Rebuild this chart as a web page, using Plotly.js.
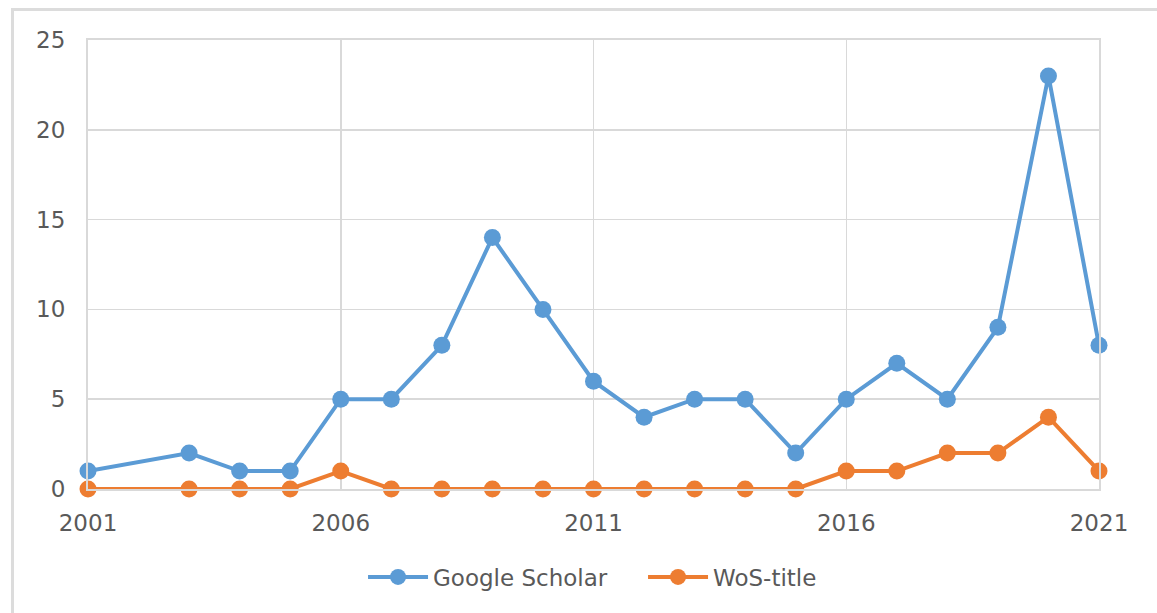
<!DOCTYPE html>
<html>
<head>
<meta charset="utf-8">
<script src="https://cdn.plot.ly/plotly-3.0.1.min.js"></script>
<style>
html,body{margin:0;padding:0;background:#fff;}
#wrap{position:relative;width:1157px;height:613px;}
#chart{width:1157px;height:613px;}
#frame{position:absolute;left:11px;top:8px;right:0;bottom:0;border-left:3px solid #dcdcdc;border-top:3px solid #dcdcdc;pointer-events:none;}
</style>
</head>
<body>
<div id="wrap"><div id="chart"></div><div id="frame"></div></div>
<script>
const years = [2001, 2003, 2004, 2005, 2006, 2007, 2008, 2009, 2010, 2011, 2012, 2013, 2014, 2015, 2016, 2017, 2018, 2019, 2020, 2021];
const googleScholar = [1, 2, 1, 1, 5, 5, 8, 14, 10, 6, 4, 5, 5, 2, 5, 7, 5, 9, 23, 8];
const wosTitle = [0, 0, 0, 0, 1, 0, 0, 0, 0, 0, 0, 0, 0, 0, 1, 1, 2, 2, 4, 1];
const xTicks = [2001, 2006, 2011, 2016, 2021];
const yTicks = [0, 5, 10, 15, 20, 25];

const font = {family: 'DejaVu Sans, sans-serif', size: 23, color: '#595959'};

const traces = [
  {x: years, y: googleScholar, name: 'Google Scholar', type: 'scatter', mode: 'lines+markers',
   line: {color: '#5B9BD5', width: 4}, marker: {color: '#5B9BD5', size: 17}, cliponaxis: false},
  {x: years, y: wosTitle, name: 'WoS-title', type: 'scatter', mode: 'lines+markers',
   line: {color: '#ED7D31', width: 4}, marker: {color: '#ED7D31', size: 17}, cliponaxis: false}
];

const layout = {
  width: 1157, height: 613,
  margin: {l: 88, r: 58, t: 40, b: 124},
  paper_bgcolor: '#ffffff', plot_bgcolor: '#ffffff',
  font: font,
  showlegend: true,
  legend: {orientation: 'h', x: 0.549, xanchor: 'center', y: -0.196, yanchor: 'middle',
           font: font, itemwidth: 60, entrywidth: 205, entrywidthmode: 'pixels'},
  xaxis: {range: [2001, 2021], tickvals: xTicks, ticktext: xTicks.map(String),
          showgrid: true, gridcolor: '#d9d9d9', gridwidth: 1.5,
          showline: true, mirror: true, linecolor: '#d9d9d9', linewidth: 2,
          zeroline: false, ticks: '', ticklabelstandoff: 12, tickfont: font, fixedrange: true},
  yaxis: {range: [0, 25], tickvals: yTicks, ticktext: yTicks.map(String),
          showgrid: true, gridcolor: '#d9d9d9', gridwidth: 1.5,
          showline: true, mirror: true, linecolor: '#d9d9d9', linewidth: 2,
          zeroline: false, ticks: '', ticklabelstandoff: 16, tickfont: font, fixedrange: true}
};

Plotly.newPlot('chart', traces, layout, {staticPlot: true, displayModeBar: false});
</script>
</body>
</html>
